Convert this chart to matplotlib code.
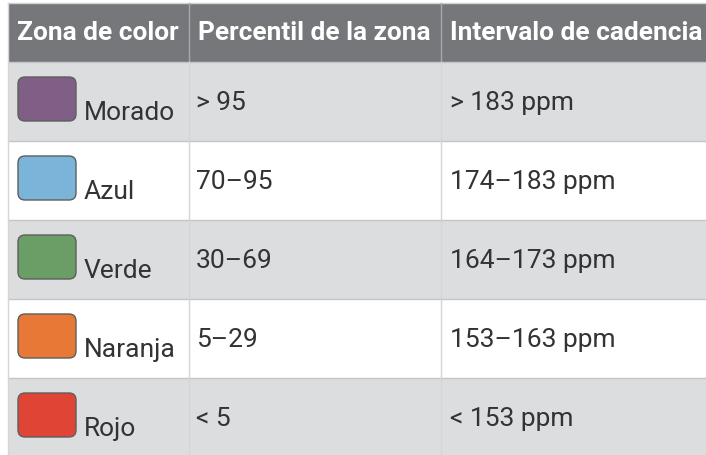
import matplotlib.pyplot as plt
from matplotlib.patches import Rectangle, FancyBboxPatch

plt.rcParams['font.family'] = ['Roboto', 'DejaVu Sans']

# table content
headers = ["Zona de color", "Percentil de la zona", "Intervalo de cadencia"]
zones = ["Morado", "Azul", "Verde", "Naranja", "Rojo"]
percentiles = ["> 95", "70\u201395", "30\u201369", "5\u201329", "< 5"]
cadence = ["> 183 ppm", "174\u2013183 ppm", "164\u2013173 ppm", "153\u2013163 ppm", "< 153 ppm"]
swatch_colors = ["#7f5f86", "#7ab4d8", "#6a9e66", "#e87836", "#e04434"]

W, H = 706, 456
fig = plt.figure(figsize=(W / 100, H / 100), dpi=100)
ax = fig.add_axes([0, 0, 1, 1])
ax.set_xlim(0, W)
ax.set_ylim(H, 0)
ax.axis("off")

left, right = 8, 720
col_x = [8, 189, 441]
head_top, head_bot = 4, 63
row_h = 79

# header
ax.add_patch(Rectangle((left, head_top), right - left, head_bot - head_top,
                       facecolor="#76777b", edgecolor="none"))
ax.plot([left, right], [head_top, head_top], color="#d0d0d0", lw=1)
for i, h in enumerate(headers):
    ax.text(col_x[i] + 9, 39.5, h, color="white", fontsize=18.9, fontweight="bold",
            ha="left", va="baseline")
    if i > 0:
        ax.plot([col_x[i], col_x[i]], [head_top, head_bot], color="#a8a9ac", lw=1)

# body rows
for r in range(len(zones)):
    top = head_bot + r * row_h
    bg = "#dcdddf" if r % 2 == 0 else "white"
    ax.add_patch(Rectangle((left, top), right - left, row_h, facecolor=bg, edgecolor="none"))
    ax.plot([left, right], [top, top], color="#c4c5c8", lw=1)
    for cx in col_x[1:]:
        ax.plot([cx, cx], [top, top + row_h], color="#d4d5d8", lw=1)
    ax.add_patch(FancyBboxPatch((18, top + 15), 58, 44,
                                boxstyle="round,pad=0,rounding_size=7",
                                facecolor=swatch_colors[r], edgecolor="#5e5e5e", lw=1))
    ax.text(84, top + 57, zones[r], color="#333333", fontsize=19, ha="left", va="baseline")
    ax.text(196, top + 47, percentiles[r], color="#333333", fontsize=19,
            ha="left", va="baseline")
    ax.text(450, top + 47, cadence[r], color="#333333", fontsize=19,
            ha="left", va="baseline")

ax.plot([left, left], [head_top, H], color="#d4d5d8", lw=1)

fig.savefig("out.png", dpi=100)
